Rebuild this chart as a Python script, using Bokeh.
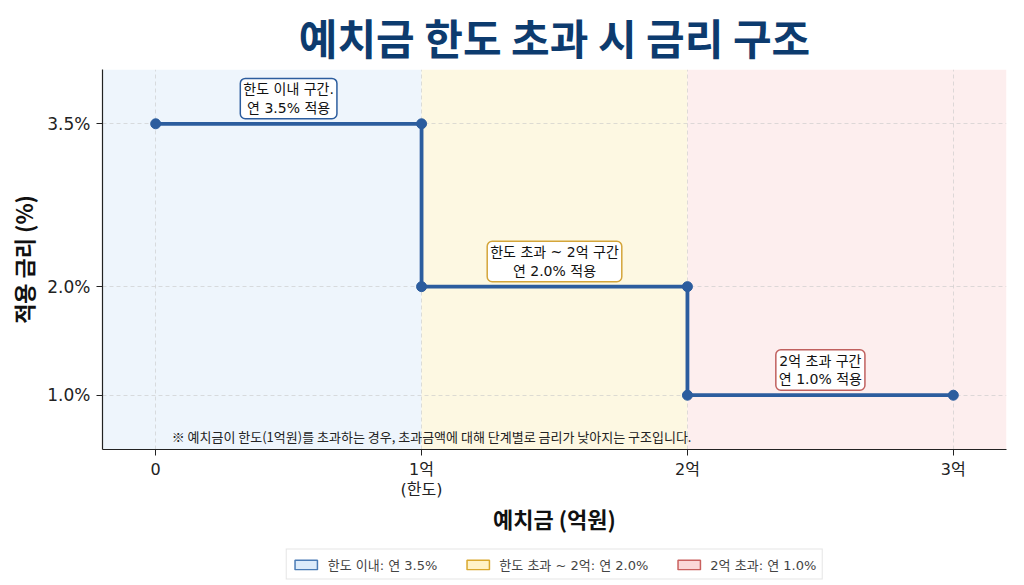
from bokeh.plotting import figure
from bokeh.layouts import column
from bokeh.models import (BoxAnnotation, Label, Legend, LegendItem, FixedTicker,
                          PrintfTickFormatter, ColumnDataSource, Range1d)
from bokeh.embed import file_html
from bokeh.resources import INLINE

# ---- data ----
breaks = [0, 1, 2, 3]                 # 예치금 구간 경계 (억원)
rates = [3.5, 2.0, 1.0]               # 구간별 금리 (%)
x_tick_labels = ["0", "1억\n(한도)", "2억", "3억"]
y_ticks = [1.0, 2.0, 3.5]
zone_names = ["한도 이내: 연 3.5%", "한도 초과 ~ 2억: 연 2.0%", "2억 초과: 연 1.0%"]
zone_notes = ["한도 이내 구간.\n연 3.5% 적용", "한도 초과 ~ 2억 구간\n연 2.0% 적용", "2억 초과 구간\n연 1.0% 적용"]
footnote = "※ 예치금이 한도(1억원)를 초과하는 경우, 초과금액에 대해 단계별로 금리가 낮아지는 구조입니다."

# style
FONT = "Noto Sans CJK KR"
MIX = "DejaVu Sans, Noto Sans CJK KR"
zone_fill = ["#eef5fc", "#fdf8e2", "#fdeeee"]
legend_fill = ["#dcebfa", "#fff2c6", "#fbd7d7"]
zone_border = ["#2c5d9e", "#d4a53a", "#c0605e"]
legend_border = ["#4a7bb5", "#d9a82e", "#c9605e"]
LINE = "#2c5d9e"

# step points
sx, sy = [], []
for i, r in enumerate(rates):
    sx += [breaks[i], breaks[i + 1]]
    sy += [r, r]

p = figure(frame_width=904, frame_height=380, output_backend="svg", toolbar_location=None,
           x_range=Range1d(-0.2, 3.2), y_range=Range1d(0.5, 4.0),
           min_border_left=102, min_border_right=18, min_border_top=6, min_border_bottom=95)

p.title.text = "예치금 한도 초과 시 금리 구조"
p.title.align = "center"
p.title.text_font = FONT
p.title.text_font_size = "42px"
p.title.text_font_style = "bold"
p.title.text_color = "#0d3b6e"
p.title.standoff = 6
p.title.offset = -8

p.outline_line_color = None
p.background_fill_color = "white"

# zones
for i in range(3):
    left = breaks[i] if i > 0 else None
    right = breaks[i + 1] if i < 2 else None
    p.add_layout(BoxAnnotation(left=left, right=right, fill_color=zone_fill[i],
                               fill_alpha=1.0, line_color=None, level="image"))

# grid
for g in (p.xgrid, p.ygrid):
    g.grid_line_color = "#c8c8c8"
    g.grid_line_dash = "4 3"
    g.grid_line_alpha = 0.6
    g.grid_line_width = 1

# step line
p.line(sx, sy, line_color=LINE, line_width=3.8)
p.scatter(sx, sy, size=10, color=LINE)

# axes
p.xaxis.ticker = FixedTicker(ticks=breaks)
p.xaxis.major_label_overrides = {b: t for b, t in zip(breaks, x_tick_labels)}
p.yaxis.ticker = FixedTicker(ticks=y_ticks)
p.yaxis.formatter = PrintfTickFormatter(format="%.1f%%")
for ax in (p.xaxis, p.yaxis):
    ax.axis_line_color = "#222222"
    ax.axis_line_width = 1.2
    ax.major_tick_line_color = "#222222"
    ax.major_tick_out = 6
    ax.major_tick_in = 0
    ax.minor_tick_line_color = None
    ax.major_label_text_font = MIX
    ax.major_label_text_font_size = "16px"
    ax.major_label_text_color = "#222222"
    ax.major_label_text_line_height = 1.1
    ax.axis_label_text_font = FONT
    ax.axis_label_text_font_size = "22px"
    ax.axis_label_text_font_style = "bold"
    ax.axis_label_text_color = "#111111"
p.yaxis.major_label_text_font_size = "17px"
p.xaxis.axis_label = "예치금 (억원)"
p.yaxis.axis_label = "적용 금리 (%)"
p.xaxis.major_label_standoff = 4
p.xaxis.axis_label_standoff = 0
p.yaxis.major_label_standoff = 6

# zone annotations
for i, r in enumerate(rates):
    p.add_layout(Label(x=(breaks[i] + breaks[i + 1]) / 2, y=r, text=zone_notes[i],
                       text_align="center", text_baseline="bottom", y_offset=5,
                       text_font=MIX, text_font_size="14px", text_color="#111111",
                       text_line_height=1.15,
                       background_fill_color="white", border_line_color=zone_border[i],
                       border_line_width=1.5, border_radius=5, padding=3))

p.add_layout(Label(x=0.06, y=0.62, text=footnote, text_align="left",
                   text_baseline="middle", text_font=FONT, text_font_size="13px",
                   text_color="#222222"))

# ---- legend strip (separate small figure) ----
lg = figure(width=1024, height=40, output_backend="svg", toolbar_location=None,
            x_range=Range1d(0, 1), y_range=Range1d(0, 1),
            x_axis_location=None, y_axis_location=None, min_border=0)
lg.outline_line_color = None
lg.grid.visible = False
nan = float("nan")
items = []
for i in range(3):
    src = ColumnDataSource(dict(l=[nan], r=[nan], b=[nan], t=[nan]))
    rr = lg.quad(left="l", right="r", bottom="b", top="t", source=src,
                 fill_color=legend_fill[i], line_color=legend_border[i], line_width=1.5)
    items.append(LegendItem(label=zone_names[i], renderers=[rr]))
legend = Legend(items=items, orientation="horizontal", location="center",
                label_text_font=MIX, label_text_font_size="13px",
                glyph_width=28, glyph_height=12, spacing=26, padding=5,
                border_line_color="#cccccc", border_line_width=1,
                label_standoff=8, margin=0, label_height=14,
                background_fill_color="white")
lg.add_layout(legend)

layout = column(p, lg, spacing=0)
open("out.html", "w").write(file_html(layout, INLINE))
